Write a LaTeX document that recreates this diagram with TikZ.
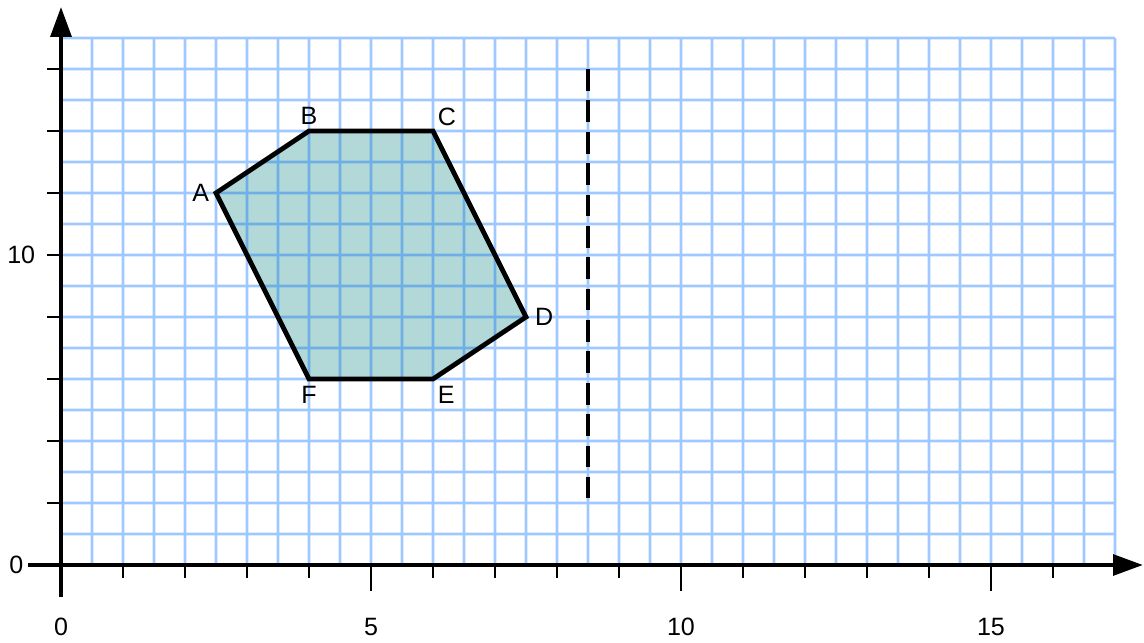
\documentclass[tikz,border=0pt]{standalone}
\usepackage{fontspec}
\setmainfont{Liberation Sans}
\usetikzlibrary{arrows.meta,positioning}
\definecolor{gridblue}{RGB}{0,110,255}
\definecolor{hexfill}{RGB}{178,216,216}

\begin{document}
\begin{tikzpicture}[x=1cm, y=0.5cm, font=\fontsize{11.5}{13}\selectfont]

  \tikzset{grd/.style={draw=gridblue, line width=1.35pt},
           ax/.style={line width=1.8pt, -{Triangle[length=13.7pt, width=9.5pt]}},
           tk/.style={line width=1.3pt},
           hexa/.style={line width=2.2pt, line join=miter},
           mirror/.style={line width=1.4pt, dash pattern=on 10pt off 4.4pt},
           lbl/.style={inner sep=1pt}}

  \useasboundingbox (-0.984,-2.484) rectangle (17.468,18.226);

  % hexagon corners
  \coordinate (A) at (2.5,12);
  \coordinate (B) at (4,14);
  \coordinate (C) at (6,14);
  \coordinate (D) at (7.5,8);
  \coordinate (E) at (6,6);
  \coordinate (F) at (4,6);
  \fill[hexfill] (A) -- (B) -- (C) -- (D) -- (E) -- (F) -- cycle;

  % squared paper
  \begin{scope}[transparency group, opacity=0.38]
    \foreach \x in {1,...,34}
      \draw[grd] (\x/2,0) -- (\x/2,17);
    \foreach \y in {1,...,17}
      \draw[grd] (0,\y) -- (17,\y);
  \end{scope}

  \draw[hexa] (A) -- (B) -- (C) -- (D) -- (E) -- (F) -- cycle;
  \node[lbl, left=2pt of A] (la) {A};
  \node[lbl, above=2pt of B] (lb) {B};
  \node[lbl, above right=1pt and 1pt of C] (lc) {C};
  \node[lbl, right=3pt of D] (ld) {D};
  \node[lbl, below right=2pt and 1pt of E] (le) {E};
  \node[lbl, below=2pt of F] (lf) {F};

  % mirror line
  \draw[mirror] (8.5,16) -- (8.5,2.15);

  % axes
  \draw[ax] (-0.53,0) -- (17.45,0);
  \draw[ax] (0,-1.03) -- (0,18);
  \foreach \x in {1,...,16}
    \draw[tk] (\x,0) -- (\x,-0.42);
  \foreach \x in {5,10,15}
    \draw[tk] (\x,0) -- (\x,-0.84);
  \foreach \y in {2,4,...,16}
    \draw[tk] (0,\y) -- (-0.23,\y);
  \foreach \x in {0,5,10,15}
    \node (x\x) at (\x,-2) {\x};
  \node[anchor=east, inner sep=0pt] (y0) at (-0.6,0) {0};
  \node[anchor=east, inner sep=0pt] (y10) at (-0.41,10) {10};

\end{tikzpicture}
\end{document}
